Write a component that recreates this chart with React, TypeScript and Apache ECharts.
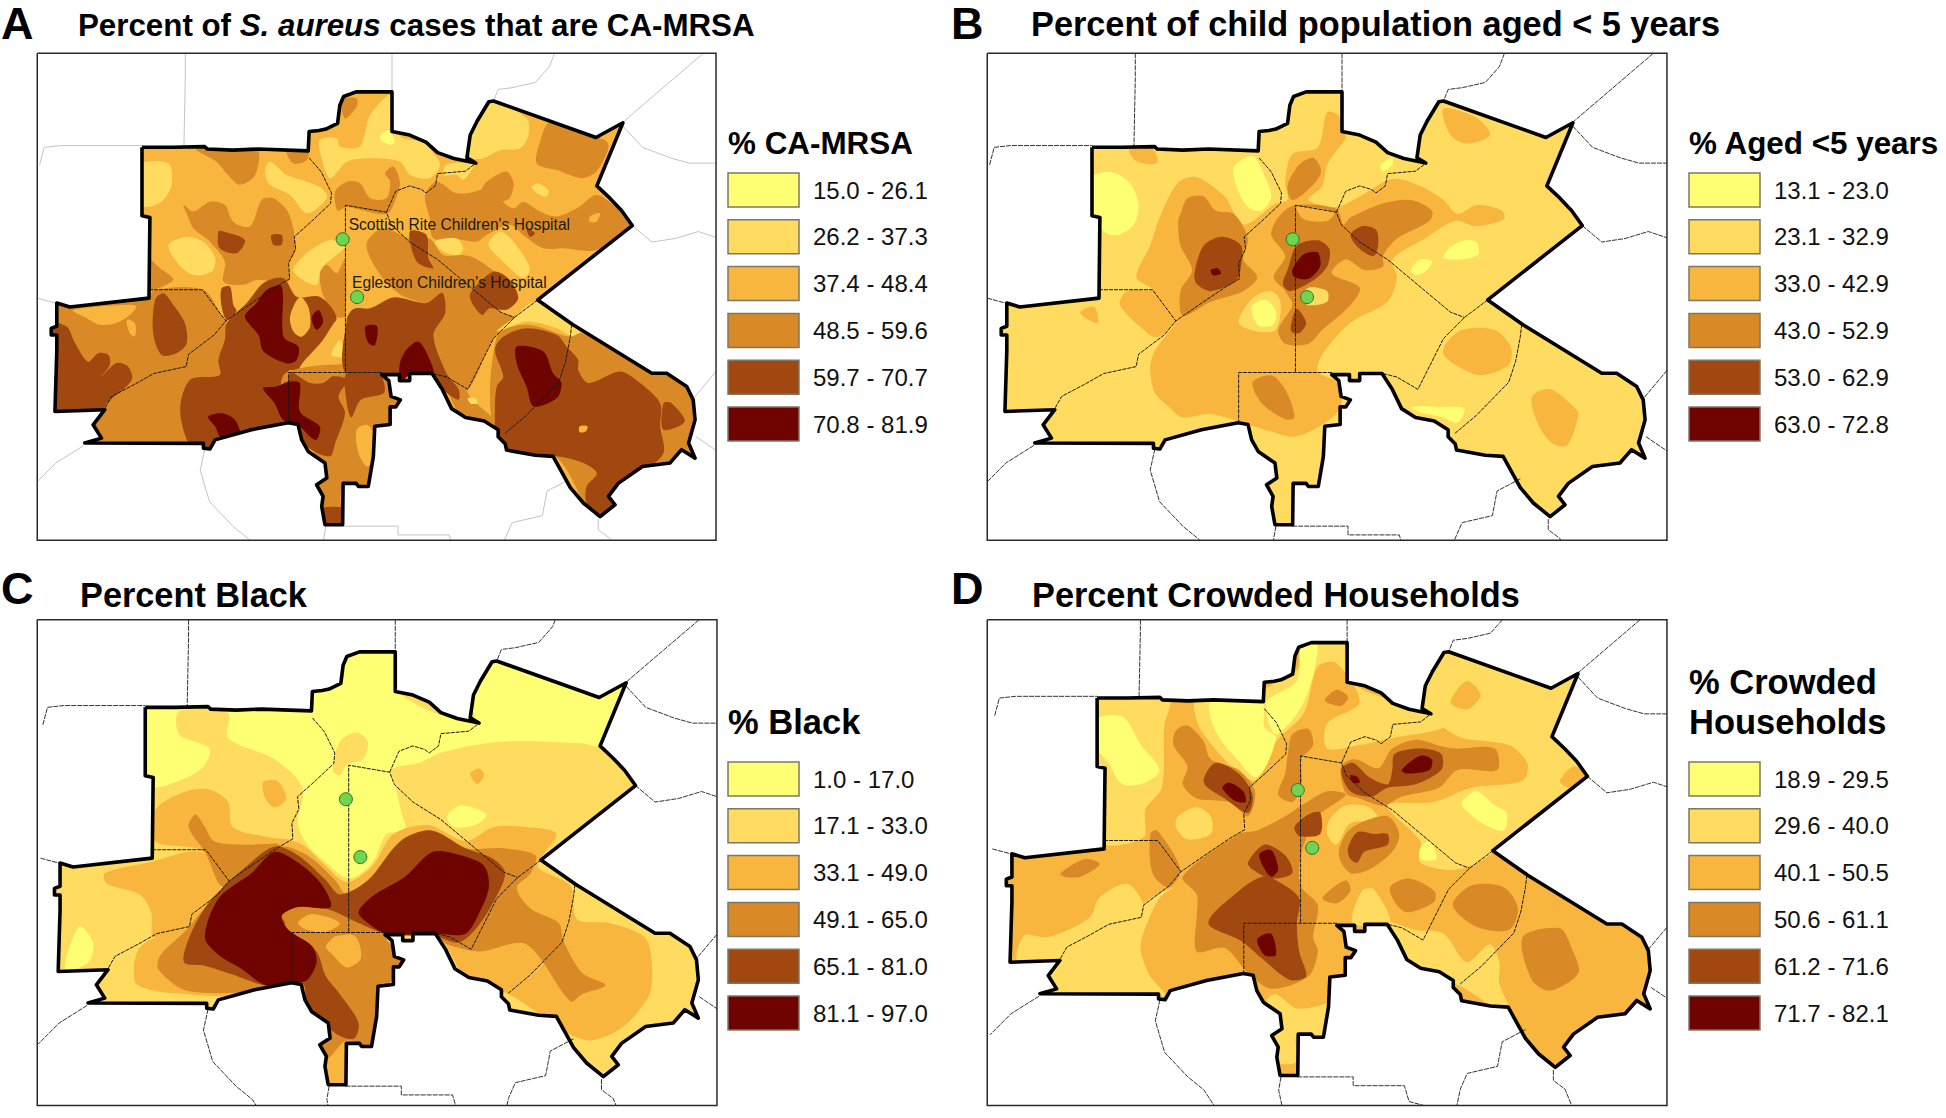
import React, { useEffect, useRef } from "react";
import * as echarts from "echarts";

const COLORS = ["#FFFF73", "#FFDC60", "#F8B63E", "#D98A27", "#A0480F", "#6E0300"];
const FONT = "'Liberation Sans', Arial, sans-serif";

const LEGEND_A = ["15.0 - 26.1", "26.2 - 37.3", "37.4 - 48.4", "48.5 - 59.6", "59.7 - 70.7", "70.8 - 81.9"];
const LEGEND_B = ["13.1 - 23.0", "23.1 - 32.9", "33.0 - 42.9", "43.0 - 52.9", "53.0 - 62.9", "63.0 - 72.8"];
const LEGEND_C = ["1.0 - 17.0", "17.1 - 33.0", "33.1 - 49.0", "49.1 - 65.0", "65.1 - 81.0", "81.1 - 97.0"];
const LEGEND_D = ["18.9 - 29.5", "29.6 - 40.0", "40.1 - 50.5", "50.6 - 61.1", "61.2 - 71.6", "71.7 - 82.1"];

// Study-area boundary, in map units (clockwise)
const OUTLINE = [305,420, 370,420, 440,418,445,425, 500,428, 555,425, 662,430, 664,375, 685,372, 700,368, 725,352, 730,300, 738,275, 765,262, 842,262, 842,375, 880,385, 915,405, 940,435, 975,452, 1022,465, 1003,450, 1010,385, 1025,345, 1050,290, 1060,288, 1280,392, 1338,350, 1282,530, 1310,565, 1335,600, 1358,643, 1155,855, 1230,925, 1400,1064, 1432,1064, 1475,1102, 1489,1140, 1493,1197, 1479,1263, 1493,1306, 1464,1282, 1439,1320, 1380,1330, 1328,1378, 1307,1415, 1321,1439, 1289,1473, 1253,1434, 1225,1390, 1188,1301, 1150,1298, 1088,1283, 1085,1265, 1070,1245, 1070,1225, 1040,1200, 1000,1190, 970,1165, 950,1110, 928,1065, 880,1065, 880,1085, 858,1085, 858,1068, 820,1068, 835,1085, 840,1130, 860,1140, 850,1160, 838,1160, 838,1210, 805,1215, 802,1301, 791,1387, 770,1387, 765,1378, 737,1378, 736,1496, 698,1496, 691,1444, 694,1415, 680,1382, 702,1363, 698,1320, 662,1287, 648,1254, 640,1210, 619,1205, 540,1225, 462,1254, 451,1280, 437,1278, 437,1264, 182,1263, 218,1249, 200,1211, 225,1168, 118,1173, 122,1000, 122,955, 110,955, 110,936, 122,930, 122,864, 150,875, 320,850, 322,620, 305,615];

const COUNTY_LINES = [
  [664,450, 690,490, 712,550, 710,580, 670,630, 632,675, 635,710, 620,750, 622,795, 590,820, 545,860, 485,915, 460,955, 405,1010, 400,1045, 330,1065, 290,1095, 240,1130, 225,1165],
  [320,826, 435,826, 485,915],
  [742,1060, 742,585, 830,605, 840,640, 880,690, 940,740, 985,790, 1030,840, 1075,890, 1105,905],
  [830,605, 850,545, 880,530, 905,540, 915,550, 935,530, 940,495, 1000,488, 1022,465],
  [1155,855, 1105,905, 1060,965, 1005,1110, 960,1075, 930,1065],
  [1228,925, 1225,960, 1215,1030, 1200,1090, 1130,1185, 1085,1235],
  [820,1062, 742,1062, 620,1062, 620,1205],
];

const OUTER_LINES = [
  [398,100, 398,225, 395,420],
  [842,100, 842,262],
  [85,470, 95,420, 130,415, 305,415],
  [1215,100, 1190,155, 1180,190, 1150,235, 1100,250, 1070,255, 1060,288],
  [1560,90, 1508,155, 1338,348],
  [1338,360, 1380,420, 1440,450, 1480,465, 1545,465],
  [1358,643, 1400,690, 1450,680, 1500,660, 1545,680],
  [80,850, 122,865],
  [1550,1040, 1490,1135],
  [1495,1245, 1545,1290],
  [180,1270, 120,1320, 75,1380],
  [440,1280, 430,1340, 450,1430, 500,1500, 535,1538, 565,1600],
  [700,1500, 695,1538, 705,1600],
  [735,1500, 855,1500, 855,1525, 965,1525, 975,1570, 1030,1590],
  [1285,1480, 1285,1510, 1310,1535, 1330,1600],
  [1225,1365, 1175,1400, 1165,1470, 1100,1490, 1085,1535, 1075,1600],
];

const HOSPITALS = [[736, 682], [767, 847]];
const HOSPITAL_NAMES = ["Scottish Rite Children's Hospital", "Egleston Children's Hospital"];

// Contour regions: [class index 0-5, polygon], listed in paint order
const REGIONS_A: [number, number[]][] = [
  [1, [687,399, 723,394, 730,418, 773,418, 795,328, 841,270, 850,366, 866,394, 909,404, 923,423, 945,470, 923,508, 881,499, 859,461, 795,451, 745,461, 709,508, 691,451]],
  [1, [1052,285, 1131,337, 1135,385, 1117,423, 1074,428, 1038,451, 1013,451, 1000,423, 1027,347]],
  [1, [959,470, 1010,465, 1017,475, 995,513, 981,499, 952,499]],
  [1, [300,470, 362,466, 369,527, 351,570, 322,589, 300,584]],
  [1, [569,489, 580,461, 616,499, 659,518, 691,537, 702,565, 659,608, 623,556, 580,527]],
  [1, [1142,532, 1156,523, 1178,542, 1174,561, 1153,551]],
  [0, [816,394, 834,371, 848,404, 838,413]],
  [3, [734,285, 766,280, 766,304, 741,337]],
  [3, [422,425, 551,425, 548,499, 515,527, 490,499, 465,461]],
  [3, [616,430, 662,430, 659,456, 630,466]],
  [3, [394,584, 415,603, 451,575, 483,584, 501,632, 537,646, 562,570, 587,565, 616,599, 630,651, 634,717, 619,755, 623,798, 594,803, 551,798, 523,812, 480,803, 483,746, 451,689, 415,651, 404,618]],
  [3, [315,736, 344,765, 372,798, 315,826]],
  [3, [720,546, 745,518, 773,522, 795,565, 830,565, 838,518, 827,494, 845,475, 859,518, 852,560, 830,610, 745,590, 725,600]],
  [3, [1181,350, 1300,400, 1307,423, 1281,489, 1249,508, 1196,485, 1153,466, 1160,404]],
  [3, [913,556, 938,518, 981,551, 1031,542, 1045,518, 1088,489, 1103,523, 1095,565, 1081,575, 1103,594, 1124,575, 1160,603, 1196,617, 1239,594, 1281,556, 1317,584, 1365,641, 1281,713, 1210,708, 1167,708, 1124,670, 1095,641, 1045,670, 1024,689, 974,680, 931,680, 923,622]],
  [2, [1267,617, 1289,608, 1281,632, 1267,632]],
  [4, [1131,651, 1149,665, 1138,675]],
  [1, [934,689, 981,680, 995,708, 984,727, 952,717]],
  [1, [1049,698, 1074,660, 1103,689, 1138,765, 1124,793, 1081,746]],
  [3, [787,698, 823,651, 880,680, 923,680, 952,727, 995,727, 1020,736, 1074,784, 1103,812, 1100,830, 1075,890, 1105,905, 1060,965, 1005,1110, 960,1095, 931,955, 956,880, 900,860, 860,840, 820,790]],
  [1, [630,770, 659,722, 709,684, 741,703, 694,760, 680,812, 651,798]],
  [3, [687,779, 702,755, 723,779, 741,741, 741,903, 723,903, 694,841]],
  [1, [362,698, 405,675, 440,693, 462,736, 455,774, 415,784, 379,746]],
  [4, [469,660, 480,660, 526,684, 508,722, 472,708]],
  [4, [583,670, 605,670, 605,698, 587,698]],
  // lower half
  [3, [100,864, 322,846, 329,826, 437,826, 487,917, 566,969, 623,1064, 623,1206, 444,1290, 170,1290, 100,1190]],
  [2, [157,884, 186,907, 215,926, 250,921, 279,898, 293,874, 275,869]],
  [2, [272,912, 290,922, 290,959, 279,950]],
  [4, [333,855, 351,836, 372,869, 397,921, 401,979, 379,1007, 347,1012, 329,950]],
  [4, [100,922, 143,931, 161,978, 189,1031, 211,1007, 233,1012, 236,1040, 218,1074, 250,1035, 275,1045, 283,1083, 229,1150, 218,1175, 100,1185]],
  [4, [476,822, 494,817, 501,869, 508,888, 487,912, 476,874]],
  [4, [487,922, 530,864, 566,807, 609,793, 637,846, 687,846, 723,907, 694,969, 644,1055, 619,1059, 619,1210, 465,1260, 444,1285, 408,1270, 387,1168, 408,1083, 472,1069, 469,1026, 483,969]],
  [2, [623,902, 644,846, 662,874, 666,931, 648,960, 630,945]],
  [2, [644,1055, 694,969, 723,912, 741,907, 741,1059]],
  [1, [712,1012, 730,969, 739,1016]],
  [3, [615,1062, 840,1062, 860,1230, 815,1400, 735,1400, 735,1510, 675,1510, 675,1290, 615,1210]],
  [4, [623,1064, 666,1092, 694,1092, 716,1073, 745,1083, 727,1130, 741,1178, 720,1263, 709,1301, 666,1280, 644,1240, 619,1210]],
  [4, [745,1062, 815,1068, 825,1120, 775,1140, 755,1190, 745,1150]],
  [4, [685,1452, 745,1452, 745,1510, 685,1510]],
  [2, [766,1225, 788,1211, 802,1235, 802,1311, 788,1330, 770,1292]],
  [3, [956,826, 1009,845, 1052,883, 1103,907, 1067,945, 1002,1107, 1060,1200, 1000,1200, 960,1110, 931,955]],
  [1, [1005,1135, 1022,1135, 1025,1150, 1010,1150]],
  [4, [1009,845, 1031,803, 1063,774, 1095,798, 1113,850, 1088,883, 1052,879, 1035,898]],
  [4, [880,660, 916,670, 920,736, 931,765, 895,746]],
  [4, [745,910, 760,880, 795,879, 845,848, 916,864, 950,835, 956,893, 931,955, 959,1064, 985,1110, 985,1140, 950,1110, 925,1070, 745,1064]],
  [5, [859,1036, 873,997, 899,974, 920,1016, 931,1070, 880,1070, 860,1090]],
  [5, [785,930, 810,930, 805,985, 790,975]],
  [1, [1149,860, 1103,907, 1067,945, 1131,917, 1196,936, 1231,960, 1246,950, 1224,921]],
  [3, [1067,960, 1131,925, 1224,960, 1250,950, 1403,1058, 1490,1105, 1515,1292, 1296,1490, 1196,1305, 1067,1250]],
  [4, [1063,1169, 1067,1102, 1081,1074, 1063,997, 1081,960, 1131,936, 1196,955, 1217,988, 1242,1026, 1242,1055, 1264,1092, 1332,1059, 1375,1092, 1418,1150, 1418,1216, 1425,1292, 1375,1349, 1325,1385, 1307,1415, 1325,1450, 1289,1485, 1260,1435, 1260,1387, 1282,1349, 1253,1320, 1196,1301, 1095,1290, 1067,1250]],
  [4, [1425,1150, 1443,1150, 1471,1202, 1425,1225]],
  [5, [1110,988, 1167,1002, 1188,1064, 1206,1092, 1196,1135, 1146,1159, 1131,1102, 1110,1036]],
  [2, [1245,1215, 1262,1215, 1258,1230, 1245,1232]],
  [5, [526,902, 551,864, 573,826, 605,817, 609,960, 641,988, 637,1026, 616,1036, 566,1002, 555,955]],
  [5, [669,907, 684,884, 694,917, 680,940]],
  [5, [565,1107, 594,1102, 619,1088, 644,1092, 644,1173, 687,1216, 680,1254, 666,1245, 644,1216, 608,1197, 590,1150]],
  [5, [447,1188, 476,1178, 505,1197, 515,1245, 476,1250, 462,1216]],
];

const REGIONS_B: [number, number[]][] = [
  [0, [300,510, 345,490, 385,520, 405,580, 395,640, 360,670, 330,660, 300,600]],
  [0, [610,475, 650,445, 675,500, 690,560, 670,600, 640,590, 615,530]],
  [0, [1075,705, 1105,685, 1130,690, 1135,725, 1100,740, 1060,735]],
  [0, [990,770, 1010,740, 1035,745, 1025,770, 1000,785]],
  [0, [990,1160, 1060,1160, 1105,1165, 1090,1205, 1060,1190, 1010,1175]],
  [0, [925,470, 950,450, 950,470, 930,490]],
  [2, [450,620, 490,520, 530,505, 590,560, 630,640, 700,580, 725,570, 720,520, 735,440, 790,420, 810,320, 835,330, 850,390, 830,430, 810,470, 800,530, 770,570, 830,590, 880,560, 950,510, 1010,530, 1060,570, 1090,610, 1130,585, 1185,600, 1190,625, 1130,645, 1085,630, 1020,680, 950,740, 960,790, 940,860, 860,920, 800,1010, 790,1060, 830,1090, 840,1160, 800,1210, 740,1245, 690,1230, 640,1210, 560,1180, 500,1190, 470,1160, 440,1120, 430,1050, 440,1000, 485,920, 450,960, 430,955, 365,870, 380,830, 435,826, 400,790, 430,700]],
  [2, [1060,310, 1130,335, 1160,385, 1110,410, 1075,385]],
  [2, [1065,980, 1100,940, 1170,940, 1205,990, 1200,1040, 1140,1070, 1085,1040, 1060,1010]],
  [2, [1250,1130, 1290,1110, 1340,1160, 1350,1180, 1325,1270, 1290,1260, 1260,1200]],
  [2, [280,890, 310,875, 318,920, 295,910]],
  [2, [385,425, 435,425, 445,465, 400,460]],
  [1, [620,920, 650,850, 690,830, 710,860, 700,940, 660,945]],
  [0, [650,870, 680,855, 700,890, 695,925, 665,930, 650,900]],
  [3, [495,610, 510,565, 545,560, 570,600, 610,610, 640,680, 630,740, 660,790, 630,830, 560,860, 500,900, 495,830, 520,770, 495,700, 490,630]],
  [3, [690,670, 705,620, 740,585, 830,595, 845,640, 860,620, 930,580, 990,570, 1035,600, 1030,630, 960,680, 930,730, 930,760, 890,770, 850,740, 820,780, 880,820, 860,870, 800,940, 770,980, 720,980, 705,940, 735,870, 720,830, 695,790, 720,730]],
  [2, [745,590, 825,605, 810,630, 760,625]],
  [1, [770,820, 810,830, 810,860, 770,870, 755,850]],
  [3, [725,530, 750,470, 780,450, 797,490, 770,540, 735,570]],
  [3, [650,1090, 690,1070, 720,1110, 740,1190, 720,1195, 670,1150]],
  [4, [525,780, 545,700, 585,675, 625,700, 625,760, 615,800, 560,830, 530,810]],
  [4, [715,810, 725,770, 745,700, 790,685, 815,710, 810,760, 780,800, 730,830]],
  [4, [860,670, 885,645, 915,655, 920,695, 910,730, 880,710]],
  [4, [735,910, 745,880, 765,920, 750,950, 733,945]],
  [5, [735,770, 760,725, 790,720, 795,760, 770,795, 740,790]],
  [5, [560,770, 575,765, 582,780, 565,785]],
];

const REGIONS_C: [number, number[]][] = [
  [0, [300,405, 670,410, 670,360, 735,340, 745,250, 860,248, 860,375, 1020,460, 1010,385, 1070,275, 1290,375, 1350,330, 1295,520, 1250,515, 1080,510, 950,540, 900,570, 840,590, 850,640, 860,700, 870,760, 830,770, 800,850, 750,895, 700,850, 660,800, 640,740, 650,640, 590,560, 490,500, 490,430, 385,425, 385,490, 450,530, 430,590, 333,640, 300,610]],
  [1, [715,590, 730,510, 765,485, 790,510, 780,560, 745,575, 730,605]],
  [0, [140,1150, 170,1030, 200,1075, 190,1130]],
  [2, [333,790, 335,700, 400,650, 450,645, 490,680, 500,750, 580,780, 625,790, 560,850, 490,910, 430,815]],
  [2, [225,880, 320,850, 430,820, 480,900, 430,990, 400,1030, 330,1060, 325,990, 300,940, 230,910]],
  [2, [565,625, 595,620, 615,670, 590,695, 570,670]],
  [2, [1010,600, 1030,585, 1040,605, 1025,630]],
  [2, [290,1185, 300,1090, 385,1030, 430,990, 490,910, 560,850, 610,790, 650,800, 700,860, 745,905, 800,860, 845,770, 920,745, 1000,790, 1060,750, 1130,750, 1195,770, 1155,860, 1225,915, 1240,1010, 1310,1020, 1385,1060, 1400,1130, 1395,1220, 1340,1310, 1270,1350, 1220,1330, 1100,1225, 1000,1170, 940,1060, 820,1050, 850,1130, 830,1400, 760,1480, 700,1490, 640,1200, 500,1225, 400,1220, 330,1210]],
  [0, [960,720, 990,690, 1045,715, 1020,745, 975,750]],
  [3, [405,750, 420,715, 440,750, 460,790, 530,800, 600,800, 540,860, 480,920, 440,820]],
  [3, [340,1150, 345,1110, 400,1040, 450,960, 530,860, 600,805, 660,830, 720,900, 745,940, 800,900, 870,790, 930,760, 1000,810, 1080,810, 1150,830, 1140,880, 1110,920, 1140,980, 1200,1020, 1210,1070, 1250,1160, 1300,1195, 1250,1220, 1225,1240, 1130,1080, 1030,1100, 960,1080, 938,1060, 830,1060, 865,1120, 830,1210, 815,1380, 745,1350, 700,1400, 650,1200, 520,1215, 400,1210]],
  [2, [700,1085, 730,1050, 765,1060, 775,1120, 745,1145, 715,1110]],
  [4, [395,1130, 410,1050, 450,960, 530,860, 590,805, 640,830, 700,900, 730,940, 790,900, 860,790, 925,760, 1000,810, 1060,840, 1085,880, 1060,960, 1020,1040, 985,1075, 940,1060, 830,1050, 770,1020, 700,980, 640,985, 610,1030, 640,1060, 680,1100, 700,1170, 730,1220, 770,1300, 760,1345, 720,1330, 660,1250, 650,1190, 570,1195, 500,1165, 440,1140]],
  [3, [605,1000, 640,975, 720,990, 775,1040, 690,1060, 640,1050]],
  [2, [640,1020, 670,995, 730,1020, 700,1045, 660,1040]],
  [5, [440,1060, 470,950, 540,880, 590,820, 640,850, 690,910, 710,975, 640,975, 605,1000, 620,1040, 670,1085, 680,1130, 660,1180, 630,1188, 570,1195, 520,1150, 470,1110]],
  [5, [770,990, 800,945, 870,890, 930,820, 990,830, 1040,860, 1050,920, 1030,990, 1000,1050, 940,1050, 830,1050, 790,1020]],
];

const REGIONS_D: [number, number[]][] = [
  [1, [310,380, 470,385, 460,470, 455,640, 420,700, 415,780, 325,790]],
  [1, [530,385, 670,385, 680,360, 745,310, 770,220, 865,222, 865,345, 1030,430, 1060,470, 950,500, 880,520, 810,530, 810,460, 880,400, 830,290, 790,300, 760,430, 700,510, 650,620, 540,480]],
  [1, [1015,420, 1070,250, 1350,320, 1295,490, 1380,610, 1165,825, 1090,870, 1010,850, 1010,790, 940,690, 1040,680, 1120,640, 1230,620, 1240,570, 1200,520, 1100,500, 1060,470]],
  [2, [1075,400, 1110,340, 1140,380, 1110,420]],
  [2, [1310,620, 1340,580, 1375,610, 1330,640]],
  [1, [940,1020, 1000,1040, 1060,1050, 1110,1130, 1160,1080, 1180,1130, 1180,1190, 1210,1290, 1100,1200, 1000,1150]],
  [1, [865,1020, 885,930, 910,925, 945,1020]],
  [1, [145,1130, 160,1055, 210,1060, 300,1005, 320,950, 380,910, 415,965, 410,1010, 235,1130]],
  [1, [225,1225, 205,1160, 240,1115, 330,1030, 410,1010, 420,960, 480,920, 450,950, 415,1050, 410,1100, 430,1170, 460,1225]],
  [1, [745,1260, 800,1250, 830,1230, 820,1345, 745,1340, 745,1410, 700,1410, 690,1340, 715,1290, 680,1240, 700,1220]],
  [0, [310,450, 370,440, 410,520, 450,590, 420,625, 370,630, 340,570, 310,520]],
  [0, [560,395, 670,395, 675,470, 700,500, 660,610, 610,550, 570,480]],
  [0, [680,400, 745,340, 755,230, 790,235, 760,400, 700,490]],
  [0, [1100,680, 1130,650, 1170,690, 1195,710, 1190,760, 1150,745, 1105,700]],
  [0, [1010,810, 1030,790, 1045,840, 1010,840]],
  [3, [840,580, 870,560, 920,585, 950,530, 1000,505, 1060,525, 1085,530, 1170,530, 1175,590, 1090,590, 1050,640, 970,665, 930,690, 880,670, 850,655]],
  [3, [725,550, 735,490, 770,475, 780,520, 755,560, 755,640, 735,680, 705,660, 720,600]],
  [3, [485,480, 510,465, 545,510, 560,560, 620,590, 655,650, 640,720, 600,680, 530,670, 500,630, 510,580, 480,520]],
  [3, [500,890, 620,770, 660,760, 720,720, 755,690, 810,650, 850,660, 790,720, 760,800, 750,870, 755,920, 790,970, 780,1060, 790,1100, 770,1170, 690,1205, 640,1160, 590,1090, 530,1100, 530,1000, 530,940]],
  [1, [490,720, 530,695, 560,720, 560,770, 510,785, 485,750]],
  [1, [815,730, 850,690, 900,695, 920,730, 860,740, 830,800, 810,770]],
  [3, [850,770, 880,740, 940,720, 965,770, 950,820, 900,870, 860,880, 835,830]],
  [3, [430,770, 445,760, 495,870, 470,920, 435,880]],
  [3, [237,880, 290,840, 322,855, 280,890, 245,890]],
  [3, [945,920, 985,895, 1040,930, 1040,960, 985,990, 960,970]],
  [3, [1080,970, 1120,915, 1190,920, 1220,980, 1200,1040, 1130,1030]],
  [3, [1230,1060, 1310,1035, 1335,1090, 1350,1160, 1290,1210, 1250,1180]],
  [3, [800,950, 850,900, 860,930, 830,965]],
  [3, [805,395, 830,365, 855,385, 840,410]],
  [4, [545,625, 570,570, 620,600, 650,660, 640,710, 590,670]],
  [4, [640,850, 675,800, 720,830, 735,880, 690,895, 650,870]],
  [4, [555,1020, 620,930, 670,890, 700,900, 750,950, 745,1020, 750,1100, 765,1170, 730,1180, 670,1120, 625,1070]],
  [4, [740,750, 770,715, 795,710, 795,770, 750,775]],
  [4, [855,810, 875,765, 910,770, 940,770, 940,800, 890,820, 875,850, 860,840]],
  [4, [840,590, 865,570, 900,610, 940,630, 950,590, 955,545, 1010,530, 1055,545, 1055,590, 1000,630, 940,640, 905,665, 860,650]],
  [5, [585,640, 600,625, 630,650, 635,680, 610,675]],
  [5, [665,825, 690,815, 705,870, 690,890, 670,855]],
  [5, [660,1065, 690,1050, 700,1110, 675,1110]],
  [5, [970,590, 1010,550, 1035,560, 1030,590, 980,600]],
  [5, [860,605, 875,610, 880,625, 865,625]],
];

type Panel = {
  letter: string; letterX: number; letterY: number; title: string; titleX: number; titleY: number; titleSize: number;
  rect: number[]; frame: number[]; base: number; regions: [number, number[]][];
  dx: number; dy: number; sy: number; outerColor: string; outerDash: number[] | undefined;
  legendTitle: string[]; legendTitleY: number; legendTitleSize: number; legendX: number; legendY: number; labels: string[]; showNames: boolean;
};

const PANELS: Panel[] = [
  { letter: "A", letterX: 1, letterY: 1, title: "{b|Percent of }{i|S. aureus}{b| cases that are CA-MRSA}", titleX: 78, titleY: 10, titleSize: 31.3,
    rect: [0, 0, 730, 550], frame: [80, 152, 1538, 1540], base: 2, regions: REGIONS_A, dx: 0, dy: 0, sy: 1,
    outerColor: "#c4c4c4", outerDash: undefined, legendTitle: ["% CA-MRSA"], legendTitleY: 143, legendTitleSize: 31.4, legendX: 728, legendY: 173, labels: LEGEND_A, showNames: true },
  { letter: "B", letterX: 951, letterY: 1, title: "Percent of child population aged < 5 years", titleX: 1031, titleY: 7, titleSize: 34.3,
    rect: [950, 0, 730, 550], frame: [80, 152, 1540, 1540], base: 1, regions: REGIONS_B, dx: 0, dy: 0, sy: 1,
    outerColor: "#333333", outerDash: [5, 1], legendTitle: ["% Aged <5 years"], legendTitleY: 143, legendTitleSize: 31.4, legendX: 1689, legendY: 173, labels: LEGEND_B, showNames: false },
  { letter: "C", letterX: 1, letterY: 566, title: "Percent Black", titleX: 80, titleY: 578, titleSize: 34.3,
    rect: [0, 560, 730, 558], frame: [80, 168, 1540, 1533], base: 1, regions: REGIONS_C, dx: 7, dy: 0, sy: 0.9857,
    outerColor: "#333333", outerDash: [5, 1], legendTitle: ["% Black"], legendTitleY: 722, legendTitleSize: 34.5, legendX: 728, legendY: 762, labels: LEGEND_C, showNames: false },
  { letter: "D", letterX: 951, letterY: 566, title: "Percent Crowded Households", titleX: 1032, titleY: 578, titleSize: 34.3,
    rect: [950, 560, 730, 558], frame: [80, 168, 1540, 1533], base: 2, regions: REGIONS_D, dx: 11, dy: -26, sy: 0.9857,
    outerColor: "#333333", outerDash: [5, 1], legendTitle: ["% Crowded", "Households"], legendTitleY: 682, legendTitleSize: 34.5, legendX: 1689, legendY: 762, labels: LEGEND_D, showNames: false },
];

const pairs = (flat: number[]) => {
  const out: number[][] = [];
  for (let i = 0; i < flat.length; i += 2) out.push([flat[i], flat[i + 1]]);
  return out;
};

// Cut a polyline to the panel frame; returns the pieces that stay inside.
function clipPolyline(pts: number[][], [x0, y0, x1, y1]: number[]) {
  const pieces: number[][][] = [];
  let cur: number[][] = [];
  for (let i = 0; i + 1 < pts.length; i++) {
    const [ax, ay] = pts[i];
    const [bx, by] = pts[i + 1];
    const ddx = bx - ax, ddy = by - ay;
    let t0 = 0, t1 = 1, ok = true;
    const tests = [[-ddx, ax - x0], [ddx, x1 - ax], [-ddy, ay - y0], [ddy, y1 - ay]];
    for (const [q, r] of tests) {
      if (q === 0) { if (r < 0) ok = false; continue; }
      const t = r / q;
      if (q < 0) t0 = Math.max(t0, t); else t1 = Math.min(t1, t);
    }
    if (!ok || t0 > t1) { if (cur.length > 1) pieces.push(cur); cur = []; continue; }
    const a = [ax + t0 * ddx, ay + t0 * ddy];
    const b = [ax + t1 * ddx, ay + t1 * ddy];
    if (!cur.length) cur.push(a);
    cur.push(b);
    if (t1 < 1) { pieces.push(cur); cur = []; }
  }
  if (cur.length > 1) pieces.push(cur);
  return pieces;
}

function seriesForPanel(p: Panel, gridIndex: number) {
  const place = (flat: number[]) => pairs(flat).map(([x, y]) => [x + p.dx, y * p.sy + p.dy]);
  const outline = place(OUTLINE);
  const [fx0, fy0, fx1, fy1] = p.frame;
  const hole = [[fx0, fy0], [fx0, fy1], [fx1, fy1], [fx1, fy0], [fx0, fy0], ...outline, outline[0], [fx0, fy0]];

  type Item = { kind: string; pts: number[][]; cls?: number; name?: string };
  const items: Item[] = [];
  items.push({ kind: "fill", pts: [[fx0, fy0], [fx1, fy0], [fx1, fy1], [fx0, fy1]], cls: p.base });
  p.regions.forEach(([cls, flat]) => items.push({ kind: "contour", pts: pairs(flat), cls }));
  items.push({ kind: "mask", pts: hole });
  OUTER_LINES.forEach((l) => clipPolyline(place(l), p.frame).forEach((piece) => items.push({ kind: "outer", pts: piece })));
  COUNTY_LINES.forEach((l) => items.push({ kind: "county", pts: place(l) }));
  items.push({ kind: "outline", pts: [...outline, outline[0]] });
  items.push({ kind: "frame", pts: [[fx0, fy0], [fx1, fy0], [fx1, fy1], [fx0, fy1], [fx0, fy0]] });
  HOSPITALS.forEach((h, i) => items.push({ kind: "hospital", pts: place(h), name: HOSPITAL_NAMES[i] }));

  return {
    type: "custom",
    xAxisIndex: gridIndex,
    yAxisIndex: gridIndex,
    clip: false,
    silent: true,
    data: items.map((_, i) => [i, 0]),
    renderItem: (params: any, api: any) => {
      const it = items[params.dataIndex];
      const pts = it.pts.map((q) => api.coord(q));
      switch (it.kind) {
        case "fill":
          return { type: "polygon", shape: { points: pts }, style: { fill: COLORS[it.cls!] } };
        case "contour":
          return { type: "polygon", shape: { points: pts, smooth: 0.3 }, style: { fill: COLORS[it.cls!] } };
        case "mask":
          return { type: "polygon", shape: { points: pts }, style: { fill: "#ffffff" } };
        case "outer":
          return { type: "polyline", shape: { points: pts }, style: { fill: "none", stroke: p.outerColor, lineWidth: 1, lineDash: p.outerDash } };
        case "county":
          return { type: "polyline", shape: { points: pts }, style: { fill: "none", stroke: "#1a1a1a", lineWidth: 1, lineDash: [4, 1] } };
        case "outline":
          return { type: "polyline", shape: { points: pts }, style: { fill: "none", stroke: "#000000", lineWidth: 3.6, lineJoin: "round" } };
        case "frame":
          return { type: "polyline", shape: { points: pts }, style: { fill: "none", stroke: "#2b2b2b", lineWidth: 1.5 } };
        default: {
          const children: any[] = [
            { type: "ellipse", shape: { cx: pts[0][0], cy: pts[0][1], rx: 6.5, ry: 6.5 }, style: { fill: "#6FD44E", stroke: "#2f6b2a", lineWidth: 1 } },
          ];
          if (p.showNames) {
            const up = it.name!.startsWith("Scottish") ? [6, -14.5] : [-5, -14.5];
            children.unshift({
              type: "text",
              x: pts[0][0] + up[0], y: pts[0][1] + up[1],
              style: { text: it.name, fill: "#1a1a1a", font: `15.6px ${FONT}`, verticalAlign: "middle" },
            });
          }
          return { type: "group", children };
        }
      }
    },
  };
}

function legendGraphics(p: Panel) {
  const els: any[] = [];
  p.legendTitle.forEach((t, i) => {
    els.push({
      type: "text", x: p.legendX, y: p.legendTitleY + i * 40,
      style: { text: t, fill: "#000", font: `bold ${p.legendTitleSize}px ${FONT}`, verticalAlign: "middle" },
    });
  });
  p.labels.forEach((t, i) => {
    const y = p.legendY + i * 46.8;
    els.push({
      type: "rect", shape: { x: p.legendX, y, width: 71, height: 34 },
      style: { fill: COLORS[i], stroke: "#7d7766", lineWidth: 1.5 },
    });
    els.push({
      type: "text", x: p.legendX + 85, y: y + 17,
      style: { text: t, fill: "#111", font: `24px ${FONT}`, verticalAlign: "middle" },
    });
  });
  return els;
}

export default function App() {
  const ref = useRef<HTMLDivElement>(null);
  useEffect(() => {
    const chart = echarts.init(ref.current!, null, { renderer: "svg" });
    chart.setOption({
      animation: false,
      backgroundColor: "#ffffff",
      title: PANELS.flatMap((p) => {
        const rich = {
          b: { fontFamily: FONT, fontWeight: "bold", fontSize: p.titleSize, color: "#000" },
          i: { fontFamily: FONT, fontWeight: "bold", fontStyle: "italic", fontSize: p.titleSize, color: "#000" },
        };
        return [
          { text: p.letter, left: p.letterX, top: p.letterY, padding: 0, textStyle: { fontFamily: FONT, fontWeight: "bold", fontSize: 45, color: "#000" } },
          { text: p.title, left: p.titleX, top: p.titleY, padding: 0, textStyle: { fontFamily: FONT, fontWeight: "bold", fontSize: p.titleSize, color: "#000", rich } },
        ];
      }),
      grid: PANELS.map((p) => ({ left: p.rect[0], top: p.rect[1], width: p.rect[2], height: p.rect[3], show: false })),
      xAxis: PANELS.map((_, i) => ({ type: "value", gridIndex: i, min: 0, max: 1568, show: false })),
      yAxis: PANELS.map((_, i) => ({ type: "value", gridIndex: i, min: 0, max: 1568, inverse: true, show: false })),
      series: PANELS.map((p, i) => seriesForPanel(p, i)),
      graphic: { elements: PANELS.flatMap(legendGraphics) },
    });
    return () => chart.dispose();
  }, []);
  return <div ref={ref} style={{ position: "fixed", left: 0, top: 0, width: 1946, height: 1118, background: "#fff" }} />;
}
